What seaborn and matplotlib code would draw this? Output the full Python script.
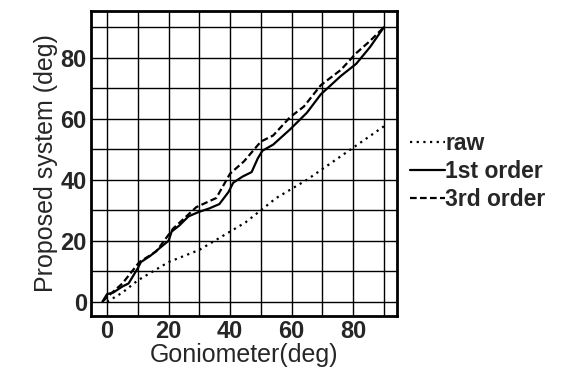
import numpy as np
import pandas as pd
import matplotlib
matplotlib.use("Agg")
import matplotlib.pyplot as plt
import seaborn as sns

# values
raw_x = [0, 5, 10, 15, 20, 25, 30, 35, 40, 45, 50, 55, 60, 65, 70, 75, 80, 85, 90]
raw_y = [0, 3, 7, 10, 13, 15, 17, 20, 23, 26, 30, 34, 37, 40, 43.5, 47, 50.5, 54, 57.5]

first_x = [-1.5, 0, 2, 5, 7, 8.5, 10, 11, 14, 17, 20, 21, 23.5, 26.5, 30, 33, 36.5, 39.5,
           41, 44, 47, 49, 50.5, 54, 59.5, 65, 69.5, 76, 81, 85.5, 90]
first_y = [0, 2.5, 3, 5, 6, 8.5, 11, 13, 15, 17.5, 20, 23, 25, 28, 29.5, 30.5, 32, 36,
           39, 41, 42.5, 47, 49.5, 51.5, 56.5, 62, 68, 74, 78, 83.5, 90]

third_x = [-1.5, 0, 5, 10.5, 16, 21.5, 29, 35.5, 40, 44.5, 50, 54, 59.5, 64, 69.5, 76, 81, 85.5, 90]
third_y = [0, 1.5, 6, 13, 16.5, 24, 31, 34, 42, 46, 52.5, 54.5, 60.5, 64, 71, 76, 81.5, 85.5, 90]

df = pd.concat([
    pd.DataFrame({"x": raw_x, "y": raw_y, "series": "raw"}),
    pd.DataFrame({"x": first_x, "y": first_y, "series": "1st order"}),
    pd.DataFrame({"x": third_x, "y": third_y, "series": "3rd order"}),
])

sns.set_style("white")
plt.rcParams['font.family'] = ['Liberation Sans', 'DejaVu Sans']

fig = plt.figure(figsize=(5.69, 3.79), dpi=100)
ax = fig.add_axes([0.16, 0.166, 0.538, 0.805])

styles = {"raw": (0, (1, 2)), "1st order": "-", "3rd order": (0, (3, 1.5))}
for name in ["raw", "1st order", "3rd order"]:
    sub = df[df["series"] == name]
    sns.lineplot(data=sub, x="x", y="y", ax=ax, color="black", lw=1.6,
                 linestyle=styles[name], label=name, sort=False, estimator=None)

ax.set_xlim(-5.2, 94.3)
ax.set_ylim(-4.7, 95.3)
ax.set_xticks(np.arange(0, 81, 20))
ax.set_yticks(np.arange(0, 81, 20))
ax.set_xticks(np.arange(10, 91, 20), minor=True)
ax.set_yticks(np.arange(10, 91, 20), minor=True)
ax.grid(True, which="both", color="black", lw=1.0)
ax.tick_params(which="both", length=0, labelsize=17, pad=3)
for lab in ax.get_xticklabels() + ax.get_yticklabels():
    lab.set_fontweight("bold")
for sp in ax.spines.values():
    sp.set_color("black")
    sp.set_linewidth(2)

ax.set_xlabel("Goniometer(deg)", fontsize=18, labelpad=0)
ax.set_ylabel("Proposed system (deg)", fontsize=18, labelpad=2)

handles, labels = ax.get_legend_handles_labels()
ax.get_legend().remove()
leg = fig.legend(handles, labels, loc="center left", bbox_to_anchor=(0.72, 0.547),
                 frameon=False, handlelength=1.55, handletextpad=0.0,
                 labelspacing=0.22, borderaxespad=0, borderpad=0,
                 prop={"size": 16.5, "weight": "bold"})

fig.savefig("out.png", dpi=100)
